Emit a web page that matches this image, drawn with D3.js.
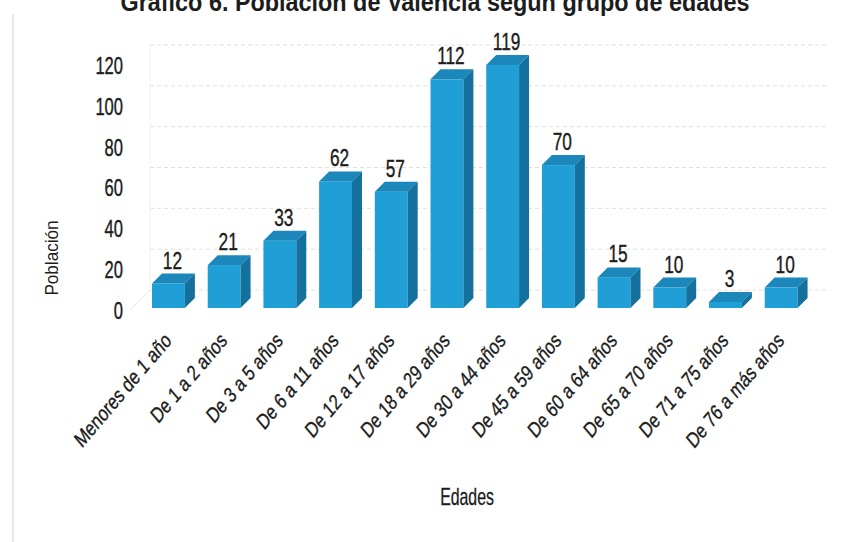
<!DOCTYPE html>
<html><head><meta charset="utf-8">
<script src="https://cdn.jsdelivr.net/npm/d3@7/dist/d3.min.js"></script>
<style>body{margin:0;background:#fff}svg{display:block}</style>
</head><body>
<svg id="c" width="867" height="542"></svg>
<script>
const categories = ["Menores de 1 año","De 1 a 2 años","De 3 a 5 años","De 6 a 11 años","De 12 a 17 años","De 18 a 29 años","De 30 a 44 años","De 45 a 59 años","De 60 a 64 años","De 65 a 70 años","De 71 a 75 años","De 76 a más años"];
const values = [12,21,33,62,57,112,119,70,15,10,3,10];
const yTicks = [0,20,40,60,80,100,120];
const title = "Gráfico 6. Población de Valencia según grupo de edades";
const yTitle = "Población";
const xTitle = "Edades";

const svg = d3.select("#c");
const FONT = "'Liberation Sans Narrow','Arial Narrow','Liberation Sans',Arial,sans-serif";
const INK = "#1c1c1c";
const y = d3.scaleLinear().domain([0,120]).range([308,63]);
const x = d3.scaleBand().domain(categories).range([140.6,809]).paddingInner(0.41).paddingOuter(0.205);
const dx = 10, dy = 10, wall = 18;

// left border of scan
svg.append("line").attr("x1",13).attr("x2",13).attr("y1",14).attr("y2",542)
  .attr("stroke","#e2e2e2").attr("stroke-width",1.5);

// gridlines on back wall
svg.append("g").selectAll("line").data(yTicks).join("line")
  .attr("x1",150).attr("x2",826)
  .attr("y1",d=>y(d)-wall).attr("y2",d=>y(d)-wall)
  .attr("stroke","#e0e0e0").attr("stroke-dasharray","4,3").attr("stroke-width",1);
svg.append("line").attr("x1",130).attr("y1",y(0)+2).attr("x2",150).attr("y2",y(0)-wall)
  .attr("stroke","#e6e6e6");
svg.append("line").attr("x1",150).attr("y1",y(120)-wall).attr("x2",150).attr("y2",y(0)-wall)
  .attr("stroke","#f0f0f0");

// title (top part cut off as in the scanned reference)
svg.append("text").attr("transform","translate(435,11) scale(0.9,1)")
  .attr("text-anchor","middle").attr("font-family","'Liberation Sans',Arial,sans-serif")
  .attr("font-weight","bold").attr("font-size",26).attr("fill",INK).text(title);

// y axis
const ax = svg.append("g").attr("transform","translate(123,3)")
  .call(d3.axisLeft(y).tickValues(yTicks).tickSize(0).tickPadding(0));
ax.select(".domain").remove();
ax.selectAll("text").attr("x",0).attr("transform","scale(0.72,1)")
  .attr("font-family",FONT).attr("font-size",23).attr("fill",INK)
  .attr("stroke",INK).attr("stroke-width",0.4).attr("text-anchor","end");

// bars
const bw = x.bandwidth();
const g = svg.append("g");
const bars = g.selectAll("g.bar").data(categories.map((c,i)=>({c,v:values[i]}))).join("g").attr("class","bar");
bars.append("rect").attr("x",d=>x(d.c)).attr("y",d=>y(d.v)).attr("width",bw)
  .attr("height",d=>y(0)-y(d.v)).attr("fill","#1f9fd6");
bars.append("path").attr("fill","#1b87ba").attr("d",d=>{
  const x0=x(d.c), yv=y(d.v);
  return `M${x0},${yv}L${x0+dx},${yv-dy}L${x0+bw+dx},${yv-dy}L${x0+bw},${yv}Z`;});
bars.append("path").attr("fill","#14709c").attr("d",d=>{
  const x1=x(d.c)+bw, yv=y(d.v), y0=y(0);
  return `M${x1},${yv}L${x1+dx},${yv-dy}L${x1+dx},${y0-dy}L${x1},${y0}Z`;});
bars.append("text")
  .attr("transform",d=>`translate(${x(d.c)+bw/2+dx/2-1},${y(d.v)-dy-5}) scale(0.72,1)`)
  .attr("text-anchor","middle").attr("font-family",FONT).attr("font-size",24).attr("fill",INK)
  .attr("stroke",INK).attr("stroke-width",0.4)
  .text(d=>d.v);

// category labels
svg.append("g").selectAll("text").data(categories).join("text")
  .attr("transform",d=>`translate(${x(d)+bw/2+4},${342}) scale(0.85,1) rotate(-45) scale(0.85,1)`)
  .attr("text-anchor","end").attr("font-family",FONT).attr("font-size",22).attr("fill",INK)
  .attr("stroke",INK).attr("stroke-width",0.35)
  .text(d=>d);

// axis titles
svg.append("text").attr("transform","translate(58,258) rotate(-90) scale(0.9,1)")
  .attr("text-anchor","middle").attr("font-family","'Liberation Sans',Arial,sans-serif")
  .attr("font-size",19).attr("fill",INK).text(yTitle);
svg.append("text").attr("transform","translate(467,505) scale(0.66,1)")
  .attr("text-anchor","middle").attr("font-family",FONT).attr("font-size",24).attr("fill",INK)
  .attr("stroke",INK).attr("stroke-width",0.3)
  .text(xTitle);
</script>
</body></html>
